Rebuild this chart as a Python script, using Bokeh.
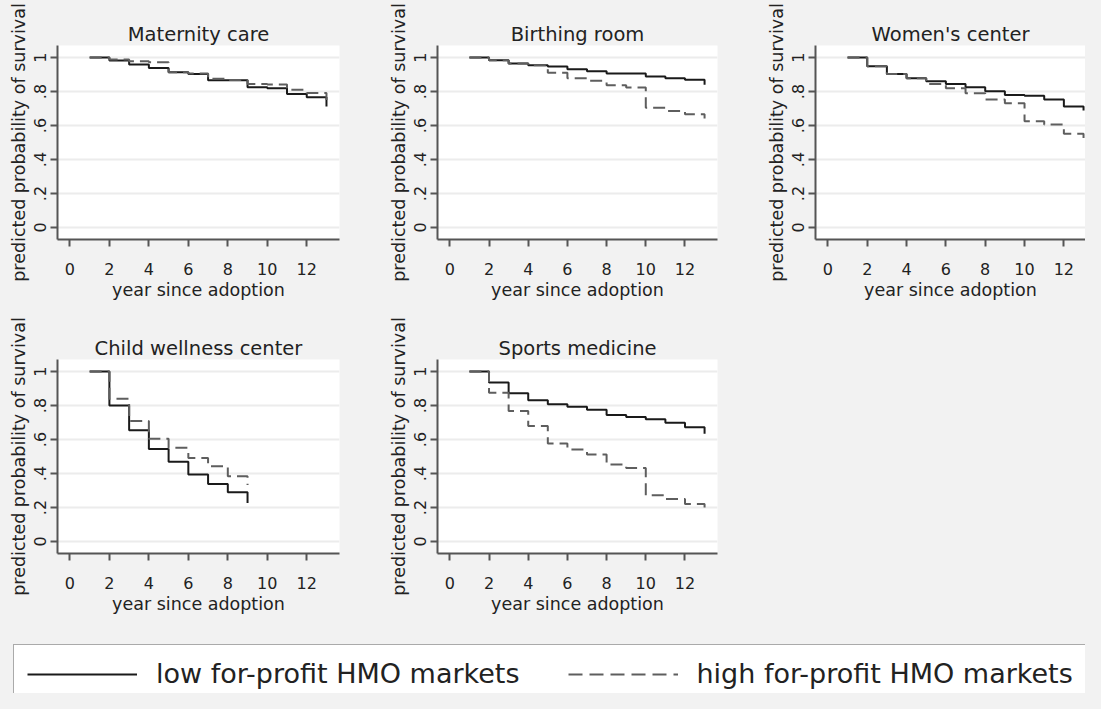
from bokeh.plotting import figure
from bokeh.layouts import column, row
from bokeh.models import (FixedTicker, CustomJSTickFormatter, Legend, LegendItem, Range1d,
                          GlobalInlineStyleSheet)
from bokeh.embed import file_html
from bokeh.resources import INLINE

# ---------------- data ----------------
years13 = [1, 2, 3, 4, 5, 6, 7, 8, 9, 10, 11, 12, 13]
years9 = [1, 2, 3, 4, 5, 6, 7, 8, 9]

maternity_low = [1.0, 0.982, 0.959, 0.939, 0.914, 0.904, 0.866, 0.866, 0.825, 0.820, 0.786, 0.767, 0.712]
maternity_high = [1.0, 0.988, 0.978, 0.973, 0.914, 0.906, 0.875, 0.868, 0.845, 0.842, 0.810, 0.792, 0.750]

birthing_low = [1.0, 0.984, 0.965, 0.955, 0.947, 0.931, 0.920, 0.906, 0.906, 0.888, 0.878, 0.869, 0.840]
birthing_high = [1.0, 0.984, 0.965, 0.955, 0.910, 0.878, 0.863, 0.837, 0.824, 0.704, 0.686, 0.667, 0.641]

women_low = [1.0, 0.949, 0.904, 0.878, 0.861, 0.845, 0.825, 0.802, 0.780, 0.776, 0.753, 0.712, 0.688]
women_high = [1.0, 0.949, 0.904, 0.878, 0.845, 0.820, 0.790, 0.753, 0.731, 0.625, 0.606, 0.551, 0.527]

child_low = [1.0, 0.800, 0.655, 0.545, 0.470, 0.394, 0.339, 0.290, 0.226]
child_high = [1.0, 0.840, 0.709, 0.604, 0.551, 0.492, 0.443, 0.384, 0.333]

sports_low = [1.0, 0.935, 0.872, 0.831, 0.807, 0.793, 0.776, 0.744, 0.732, 0.719, 0.699, 0.673, 0.634]
sports_high = [1.0, 0.876, 0.768, 0.679, 0.577, 0.541, 0.512, 0.453, 0.433, 0.272, 0.250, 0.220, 0.200]

x_ticks = [0, 2, 4, 6, 8, 10, 12]
y_ticks = [0, 0.2, 0.4, 0.6, 0.8, 1.0]
legend_labels = ["low for-profit HMO markets", "high for-profit HMO markets"]
x_title = "year since adoption"
y_title = "predicted probability of survival"

# ---------------- style ----------------
BG = "#f2f2f2"
FONT = "DejaVu Sans"
TXT = "#222222"
AX = "#555555"
LOW_C = "#1a1a1a"
HIGH_C = "#5e5e5e"
NAN = float("nan")


def panel(title, years, low, high, width, bl, br, height, bt, bb, xend=13.66):
    p = figure(width=width, height=height, output_backend="svg", toolbar_location=None,
               x_range=Range1d(-0.63, xend), y_range=Range1d(-0.0706, 1.071),
               min_border_left=bl, min_border_right=br, min_border_top=bt, min_border_bottom=bb,
               background_fill_color="white", border_fill_color=BG, outline_line_color=None)
    p.title.text = title
    p.title.align = "center"
    p.title.text_font = FONT
    p.title.text_font_size = "19.5px"
    p.title.text_font_style = "normal"
    p.title.text_color = TXT
    p.title.standoff = 0

    for ax in (p.xaxis[0], p.yaxis[0]):
        ax.axis_line_color = AX
        ax.axis_line_width = 2
        ax.major_tick_line_color = AX
        ax.major_tick_line_width = 2
        ax.major_tick_out = 7
        ax.major_tick_in = 0
        ax.minor_tick_line_color = None
        ax.major_label_text_font = FONT
        ax.major_label_text_font_size = "16px"
        ax.major_label_text_color = TXT
        ax.axis_label_text_font = FONT
        ax.axis_label_text_font_size = "17.5px"
        ax.axis_label_text_font_style = "normal"
        ax.axis_label_text_color = TXT

    p.xaxis.ticker = FixedTicker(ticks=x_ticks)
    p.xaxis.axis_label = x_title
    p.xaxis.major_label_standoff = 16
    p.xaxis.axis_label_standoff = 2

    p.yaxis.ticker = FixedTicker(ticks=y_ticks)
    p.yaxis.formatter = CustomJSTickFormatter(
        code="if (Math.abs(tick) < 1e-9) return '0'; if (Math.abs(tick - 1) < 1e-9) return '1'; return tick.toFixed(1).replace(/^0/, '');")
    p.yaxis.major_label_orientation = "vertical"
    p.yaxis.axis_label = y_title
    p.yaxis.major_label_standoff = 4
    p.yaxis.axis_label_standoff = 3

    p.xgrid.grid_line_color = None
    p.ygrid.ticker = FixedTicker(ticks=y_ticks)
    p.ygrid.grid_line_color = "#ececec"
    p.ygrid.grid_line_width = 2

    p.step(years, low, mode="after", line_color=LOW_C, line_width=2)
    p.step(years, high, mode="after", line_color=HIGH_C, line_width=2, line_dash="12 6")
    return p


# row 1: frame 45..239 of a 310px-high figure
p1 = panel("Maternity care", years13, maternity_low, maternity_high, 378, 57, 39, 310, 45, 71)
p2 = panel("Birthing room", years13, birthing_low, birthing_high, 378, 59, 39, 310, 45, 71)
p3 = panel("Women's center", years13, women_low, women_high, 329, 59, 0, 310, 45, 71, xend=13.10)
# row 2: frame 49..243 of a 307px-high figure
p4 = panel("Child wellness center", years9, child_low, child_high, 378, 57, 39, 307, 49, 64)
p5 = panel("Sports medicine", years13, sports_low, sports_high, 378, 59, 39, 307, 49, 64)

# legend strip
lf = figure(width=1085, height=76, output_backend="svg", toolbar_location=None,
            x_range=Range1d(0, 1), y_range=Range1d(0, 1), min_border=0,
            x_axis_location=None, y_axis_location=None,
            background_fill_color=BG, border_fill_color=BG, outline_line_color=None)
lf.grid.visible = False
r_low = lf.line(x=[NAN], y=[NAN], line_color=LOW_C, line_width=2)
r_high = lf.line(x=[NAN], y=[NAN], line_color=HIGH_C, line_width=2, line_dash="14 7")
leg = Legend(items=[LegendItem(label=legend_labels[0], renderers=[r_low]),
                    LegendItem(label=legend_labels[1], renderers=[r_high])],
             orientation="horizontal", location=(13, -10), margin=0, padding=13,
             spacing=48, glyph_width=110, glyph_height=30, label_standoff=19,
             label_height=30, label_text_font=FONT, label_text_font_size="27px",
             label_text_color=TXT, border_line_color=AX, border_line_width=1.5,
             background_fill_color="white", background_fill_alpha=1.0)
lf.add_layout(leg)

layout = column(row(p1, p2, p3), row(p4, p5), lf)
layout.styles = {"background-color": BG}
layout.stylesheets = [GlobalInlineStyleSheet(css="body { background-color: #f2f2f2; }")]

open("out.html", "w").write(file_html(layout, INLINE))
